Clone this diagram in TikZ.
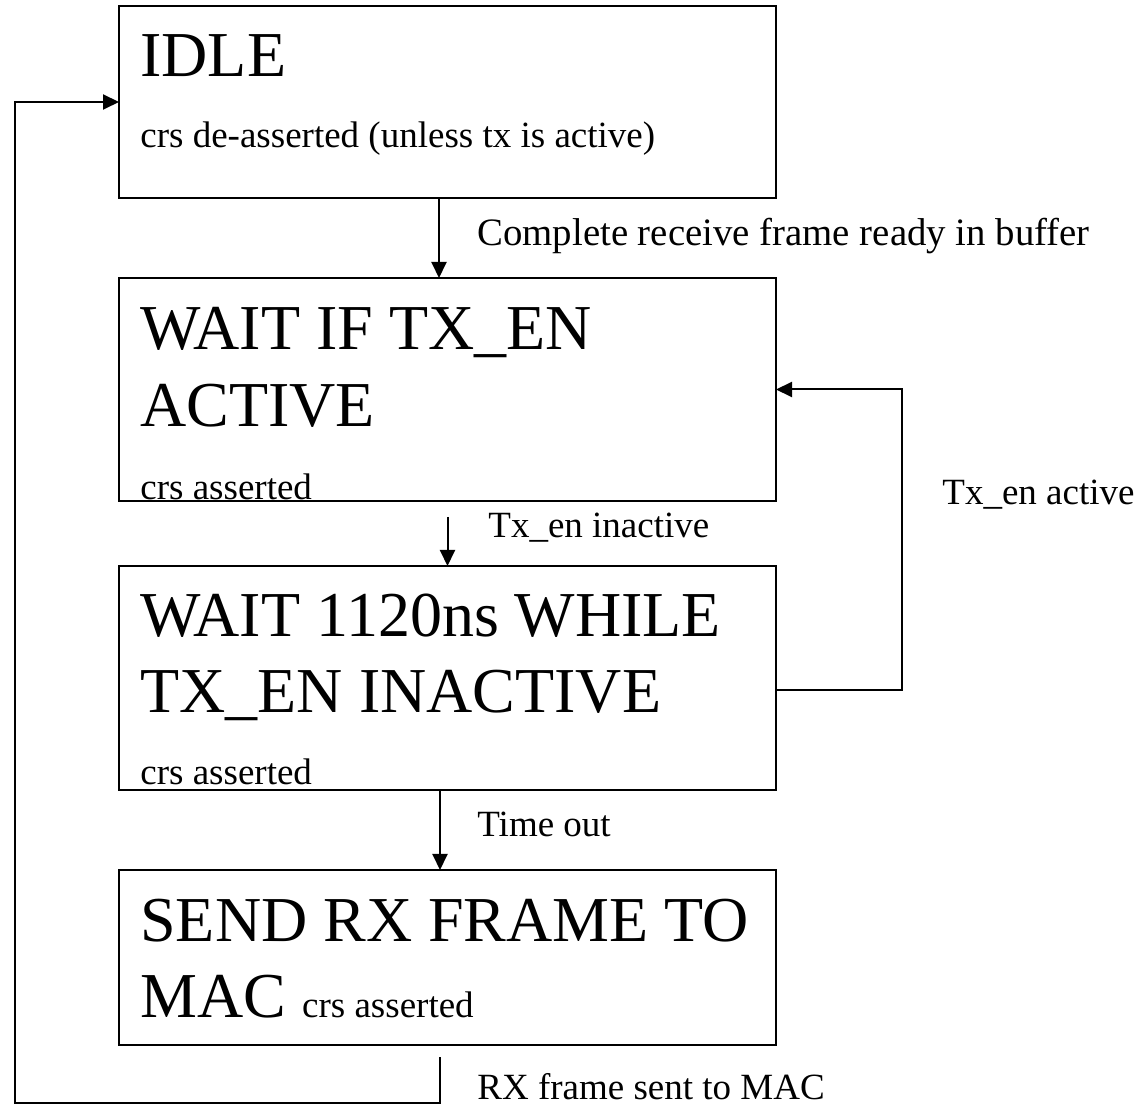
\documentclass[tikz,border=0pt]{standalone}
\usepackage{fontspec}
\setmainfont{Liberation Serif}
\usepackage{tikz}
\usetikzlibrary{calc,arrows.meta}

\newcommand{\statefont}{\fontsize{32}{36}\selectfont}
\newcommand{\notefont}{\fontsize{18.5}{22}\selectfont}

\tikzset{
    state/.style = {draw, line width=1pt, inner sep=0pt, outer sep=0pt, minimum width=328.5pt},
    txt/.style = {anchor=base west, inner sep=0pt},
    flow/.style = {line width=1pt, -{Triangle[length=8pt,width=7.5pt]}},
    wire/.style = {line width=1pt}
}

\begin{document}
\begin{tikzpicture}[x=0.5pt,y=-0.5pt]
            \useasboundingbox (0,0) rectangle (1137,1112);
        % states
            \node [state, minimum height=96pt]    (idle)     at (447.5,102)   {};
            \node [state, minimum height=111.5pt] (waittx)   at (447.5,389.5) {};
            \node [state, minimum height=112pt]   (wait1120) at (447.5,678)   {};
            \node [state, minimum height=87.5pt]  (send)     at (447.5,957.5) {};
        % state texts
            \node [txt] (idlename)  at (140,77)   {\statefont IDLE};
            \node [txt] (idlecrs)   at (140,148)  {\notefont crs de-asserted (unless tx is active)};
            \node [txt] (waittxa)   at (140,350)  {\statefont WAIT IF TX\_EN};
            \node [txt] (waittxb)   at (140,427)  {\statefont ACTIVE};
            \node [txt] (waittxcrs) at (140,500)  {\notefont crs asserted};
            \node [txt] (waitnsa)   at (140,637)  {\statefont WAIT 1120ns WHILE};
            \node [txt] (waitnsb)   at (140,713)  {\statefont TX\_EN INACTIVE};
            \node [txt] (waitnscrs) at (140,785)  {\notefont crs asserted};
            \node [txt] (senda)     at (140,942)  {\statefont SEND RX FRAME TO};
            \node [txt] (sendb)     at (140,1017) {\statefont MAC {\notefont crs asserted}};
        % transitions
            \draw [flow] ([xshift=-4.25pt]idle.south) -- ([xshift=-4.25pt]waittx.north);
            \draw [flow] ([yshift=-8pt]waittx.south) -- (wait1120.north);
            \draw [flow] ([xshift=-3.75pt]wait1120.south) -- ([xshift=-3.75pt]send.north);
            \draw [flow] ([yshift=-6pt]wait1120.east) -- ++(63pt,0) |- (waittx.east);
            \coordinate (sendout) at ($(send.south)+(-3.75pt,-6pt)$);
            \coordinate (loopcorner) at (15,1103);
            \draw [flow] (sendout) |- (loopcorner) |- (idle.west);
        % transition labels
            \node [txt] (lblready)    at (477,246)  {\fontsize{19.4}{22}\selectfont Complete receive frame ready in buffer};
            \node [txt] (lblinactive) at (488,538)  {\notefont Tx\_en inactive};
            \node [txt] (lblactive)   at (942,505)  {\notefont Tx\_en active};
            \node [txt] (lbltimeout)  at (477,837)  {\notefont Time out};
            \node [txt] (lblsent)     at (477,1099) {\notefont RX frame sent to MAC};
        \end{tikzpicture}
\end{document}
